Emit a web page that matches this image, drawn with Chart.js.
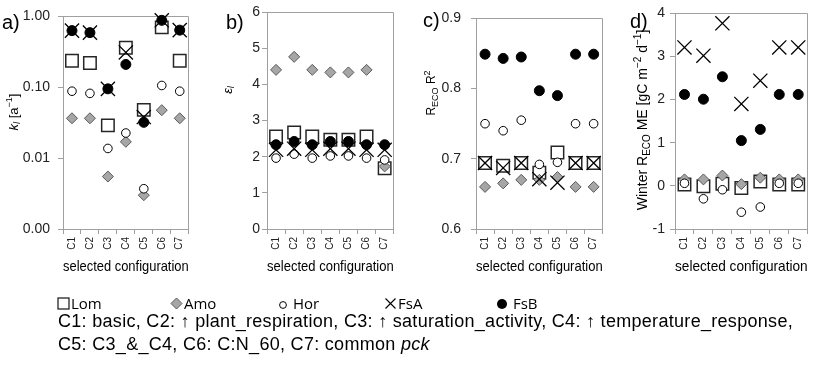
<!DOCTYPE html>
<html>
<head>
<meta charset="utf-8">
<script src="https://cdn.jsdelivr.net/npm/chart.js"></script>
<style>
  body { margin: 0; background: #fff; width: 819px; height: 368px; position: relative; overflow: hidden;
         font-family: "Liberation Sans", Arial, sans-serif; }
  canvas { position: absolute; top: 0; }
  .leg { position: absolute; top: 293px; height: 20px; line-height: 20px; font-family: "Open Sans", sans-serif;
         font-size: 15px; color: #000; white-space: nowrap; }
  .leg svg { vertical-align: -1px; margin-right: 1px; }
  .note { position: absolute; left: 58px; top: 310px; font-size: 18px; letter-spacing: 0.3px; line-height: 23px;
          color: #000; white-space: nowrap; }
</style>
</head>
<body>
<canvas id="pa" width="200" height="300" style="left:0px"></canvas>
<canvas id="pb" width="205" height="300" style="left:200px"></canvas>
<canvas id="pc" width="209" height="300" style="left:405px"></canvas>
<canvas id="pd" width="205" height="300" style="left:614px"></canvas>

<div class="leg" style="left:57px"><svg width="13" height="13"><rect x="1" y="1" width="11" height="11" fill="#fff" stroke="#262626" stroke-width="1.3"/></svg>Lom</div>
<div class="leg" style="left:170px"><svg width="13" height="13"><path d="M6.5 1 L12 6.5 L6.5 12 L1 6.5 Z" fill="#a6a6a6" stroke="#595959"/></svg>Amo</div>
<div class="leg" style="left:278px"><svg width="10" height="10"><circle cx="5" cy="5" r="3.4" fill="#fff" stroke="#000"/></svg> Hor</div>
<div class="leg" style="left:384px"><svg width="13" height="13"><path d="M1.5 1.5 L11.5 11.5 M11.5 1.5 L1.5 11.5" stroke="#000" stroke-width="1.1"/></svg>FsA</div>
<div class="leg" style="left:496px"><svg width="12" height="12"><circle cx="6" cy="6" r="5" fill="#000"/></svg> FsB</div>
<div class="note">C1: basic, C2: &uarr; plant_respiration, C3: &uarr; saturation_activity, C4: &uarr; temperature_response,<br>C5: C3_&amp;_C4, C6: C:N_60, C7: common <i>pck</i></div>

<script>
const configs = ["C1", "C2", "C3", "C4", "C5", "C6", "C7"];
const seriesNames = ["Lom", "Amo", "Hor", "FsA", "FsB"];

// a) k_l [a^-1], log axis
const kLom = [0.236, 0.22, 0.029, 0.36, 0.048, 0.70, 0.236];
const kAmo = [0.0365, 0.0365, 0.0055, 0.017, 0.0030, 0.0475, 0.0365];
const kHor = [0.088, 0.082, 0.0137, 0.0226, 0.0037, 0.106, 0.088];
const kFsA = [0.63, 0.59, 0.095, 0.31, 0.038, 0.88, 0.64];
const kFsB = [0.63, 0.59, 0.095, 0.21, 0.032, 0.88, 0.64];
const kTickValues = [0.001, 0.01, 0.1, 1];
const kTickLabels = ["0.00", "0.01", "0.10", "1.00"];

// b) epsilon_l
const eLom = [2.56, 2.67, 2.56, 2.47, 2.47, 2.56, 1.68];
const eAmo = [4.40, 4.76, 4.40, 4.33, 4.33, 4.40, 1.73];
const eHor = [1.96, 2.07, 1.96, 2.02, 2.02, 1.96, 1.91];
const eFsA = [2.19, 2.22, 2.19, 2.22, 2.22, 2.19, 2.19];
const eFsB = [2.33, 2.42, 2.33, 2.42, 2.42, 2.33, 2.33];
const eTickValues = [0, 1, 2, 3, 4, 5, 6];
const eTickLabels = ["0", "1", "2", "3", "4", "5", "6"];

// c) R_ECO R^2
const rLom = [0.694, 0.690, 0.694, 0.680, 0.709, 0.694, 0.694];
const rAmo = [0.660, 0.665, 0.670, 0.670, 0.674, 0.660, 0.660];
const rHor = [0.750, 0.740, 0.755, 0.692, 0.695, 0.750, 0.750];
const rFsA = [0.694, 0.687, 0.694, 0.671, 0.666, 0.694, 0.694];
const rFsB = [0.849, 0.843, 0.845, 0.797, 0.790, 0.849, 0.849];
const rTickValues = [0.6, 0.7, 0.8, 0.9];
const rTickLabels = ["0.6", "0.7", "0.8", "0.9"];

// d) winter R_ECO ME
const mLom = [0.03, -0.01, 0.05, -0.05, 0.10, 0.03, 0.03];
const mAmo = [0.15, 0.15, 0.24, 0.04, 0.19, 0.15, 0.15];
const mHor = [0.06, -0.30, -0.09, -0.61, -0.49, 0.06, 0.06];
const mFsA = [3.21, 3.02, 3.77, 1.90, 2.44, 3.21, 3.21];
const mFsB = [2.12, 2.01, 2.53, 1.05, 1.31, 2.12, 2.12];
const mTickValues = [-1, 0, 1, 2, 3, 4];
const mTickLabels = ["-1", "0", "1", "2", "3", "4"];

const FAMILY = '"Liberation Sans", Arial, sans-serif';
const AXIS_GREY = "#a0a0a0";

const markerStyles = [
  { pointStyle: "rect",     pointRadius: 8.8, pointBackgroundColor: "#fff",    pointBorderColor: "#262626", pointBorderWidth: 1.5, order: 5 },
  { pointStyle: "rectRot",  pointRadius: 5.5, pointBackgroundColor: "#a6a6a6", pointBorderColor: "#595959", pointBorderWidth: 1,   order: 4 },
  { pointStyle: "circle",   pointRadius: 4.3, pointBackgroundColor: "#fff",    pointBorderColor: "#000",    pointBorderWidth: 1,   order: 3 },
  { pointStyle: "crossRot", pointRadius: 10,  pointBackgroundColor: "#000",    pointBorderColor: "#000",    pointBorderWidth: 1.3, order: 2 },
  { pointStyle: "circle",   pointRadius: 5,   pointBackgroundColor: "#000",    pointBorderColor: "#000",    pointBorderWidth: 1,   order: 1 }
];

// text with sub/superscripts, centred on the origin
function drawRich(ctx, segs, size) {
  const fontOf = s => (s.i ? "italic " : "") + ((s.sub || s.sup) ? Math.round(size * 0.72) : size) + "px " + FAMILY;
  let total = 0;
  segs.forEach(s => { ctx.font = fontOf(s); total += ctx.measureText(s.t).width; });
  let x = -total / 2;
  ctx.textAlign = "left";
  ctx.textBaseline = "middle";
  segs.forEach(s => {
    ctx.font = fontOf(s);
    const dy = s.sub ? size * 0.3 : (s.sup ? -size * 0.35 : 0);
    ctx.fillText(s.t, x, dy);
    x += ctx.measureText(s.t).width;
  });
}

const panelDeco = {
  id: "panelDeco",
  beforeDatasetsDraw(chart) {
    const { ctx, chartArea: a } = chart;
    ctx.save();
    ctx.strokeStyle = AXIS_GREY;
    ctx.lineWidth = 1;
    ctx.beginPath();
    ctx.moveTo(Math.round(a.left), Math.round(a.top) + 0.5);
    ctx.lineTo(Math.round(a.right) - 0.5, Math.round(a.top) + 0.5);
    ctx.lineTo(Math.round(a.right) - 0.5, Math.round(a.bottom));
    ctx.stroke();
    ctx.restore();
  },
  afterDraw(chart, args, opts) {
    const ctx = chart.ctx;
    ctx.save();
    ctx.fillStyle = "#000";
    ctx.font = "20px " + FAMILY;
    ctx.textAlign = "left";
    ctx.textBaseline = "alphabetic";
    ctx.fillText(opts.letter, opts.letterX, opts.letterY);
    ctx.translate(opts.titleX, opts.titleY);
    ctx.rotate(-Math.PI / 2);
    ctx.fillStyle = "#000";
    drawRich(ctx, opts.title, opts.titleSize);
    ctx.restore();
  }
};

function makePanel(id, p) {
  new Chart(document.getElementById(id), {
    type: "line",
    data: {
      labels: configs,
      datasets: p.series.map((vals, i) => Object.assign({
        label: seriesNames[i],
        data: vals,
        showLine: false,
        clip: false
      }, markerStyles[i]))
    },
    options: {
      responsive: false,
      animation: false,
      devicePixelRatio: 1,
      layout: { padding: { left: 0, top: 12, right: p.padRight, bottom: 0 } },
      plugins: {
        legend: { display: false },
        tooltip: { enabled: false },
        panelDeco: p.deco
      },
      scales: {
        x: {
          type: "category",
          offset: true,
          grid: { offset: true, drawOnChartArea: false, tickLength: 5, color: AXIS_GREY },
          border: { color: AXIS_GREY },
          ticks: { minRotation: 90, maxRotation: 90, autoSkip: false, padding: 3, color: "#222",
                   font: { size: 10, family: FAMILY } },
          title: { display: true, text: "selected configuration", color: "#000",
                   font: { size: 15, family: FAMILY }, padding: { top: 0, bottom: 24 } },
          afterFit: s => { s.height = 71; }
        },
        y: {
          type: p.log ? "logarithmic" : "linear",
          min: p.tickValues[0],
          max: p.tickValues[p.tickValues.length - 1],
          afterBuildTicks: s => { s.ticks = p.tickValues.map(v => ({ value: v })); },
          grid: { drawOnChartArea: false, tickLength: 5, color: AXIS_GREY },
          border: { color: AXIS_GREY },
          ticks: { callback: (v, i) => p.tickLabels[i], padding: p.tickPad, color: "#222",
                   font: { size: 14, family: FAMILY } },
          afterFit: s => { s.width = p.axisW; }
        }
      }
    },
    plugins: [panelDeco]
  });
}

makePanel("pa", {
  series: [kLom, kAmo, kHor, kFsA, kFsB], log: true,
  tickValues: kTickValues, tickLabels: kTickLabels,
  axisW: 63, padRight: 5, tickPad: 8,
  deco: { letter: "a)", letterX: 2, letterY: 29, titleX: 14, titleY: 112, titleSize: 13,
          title: [{ t: "k", i: 1 }, { t: "l", i: 1, sub: 1 }, { t: " [a" }, { t: "\u22121", sup: 1 }, { t: "]" }] }
});
makePanel("pb", {
  series: [eLom, eAmo, eHor, eFsA, eFsB],
  tickValues: eTickValues, tickLabels: eTickLabels,
  axisW: 67, padRight: 5, tickPad: 2,
  deco: { letter: "b)", letterX: 26, letterY: 29, titleX: 28, titleY: 90, titleSize: 13,
          title: [{ t: "\u03b5", i: 1 }, { t: "l", i: 1, sub: 1 }] }
});
makePanel("pc", {
  series: [rLom, rAmo, rHor, rFsA, rFsB],
  tickValues: rTickValues, tickLabels: rTickLabels,
  axisW: 71, padRight: 0, tickPad: 10,
  deco: { letter: "c)", letterX: 18, letterY: 27, titleX: 27, titleY: 93, titleSize: 12,
          title: [{ t: "R" }, { t: "ECO", sub: 1 }, { t: " R" }, { t: "2", sup: 1 }] }
});
makePanel("pd", {
  series: [mLom, mAmo, mHor, mFsA, mFsB],
  tickValues: mTickValues, tickLabels: mTickLabels,
  axisW: 61, padRight: 2, tickPad: 5,
  deco: { letter: "d)", letterX: 16, letterY: 28, titleX: 29, titleY: 120, titleSize: 14,
          title: [{ t: "Winter R" }, { t: "ECO", sub: 1 }, { t: " ME [gC m" }, { t: "\u22122", sup: 1 },
                  { t: " d" }, { t: "\u22121", sup: 1 }, { t: "]" }] }
});
</script>
</body>
</html>
